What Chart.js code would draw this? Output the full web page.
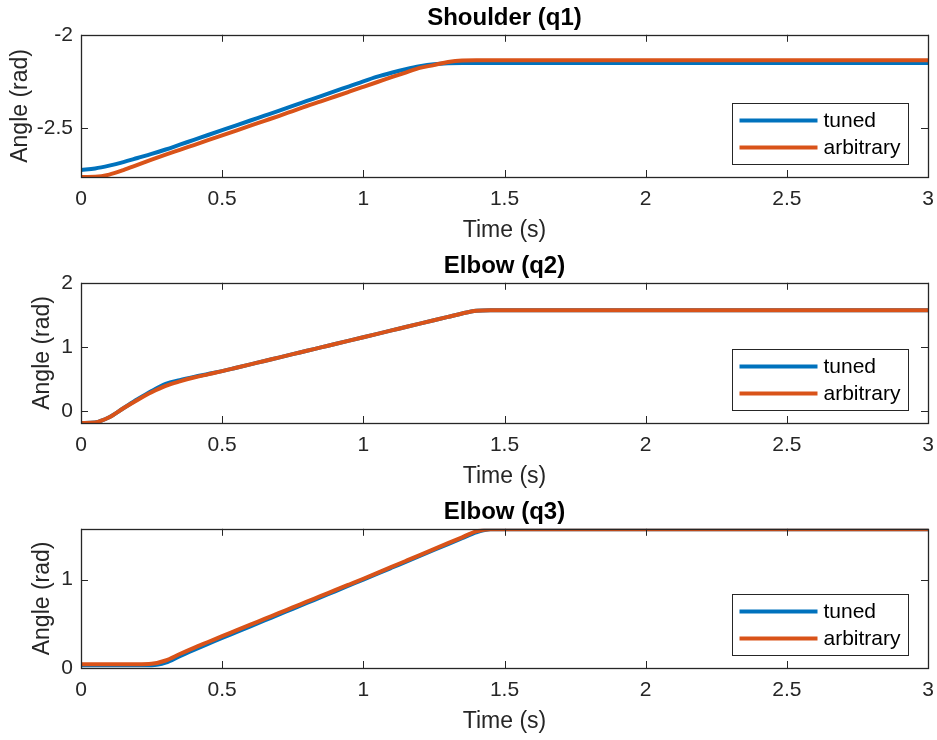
<!DOCTYPE html>
<html>
<head>
<meta charset="utf-8">
<script src="https://cdn.jsdelivr.net/npm/chart.js@4.4.0/dist/chart.umd.min.js"></script>
<style>
  body { margin: 0; background: #fff; }
  #fig { position: relative; width: 937px; height: 740px; }
  #fig canvas { position: absolute; left: 0; }
</style>
</head>
<body>
<div id="fig">
  <canvas id="q1" width="937" height="247" style="top:0px"></canvas>
  <canvas id="q2" width="937" height="245" style="top:248px"></canvas>
  <canvas id="q3" width="937" height="244" style="top:494px"></canvas>
</div>
<script>
// tijd-as (s), gedeeld door alle drie de subplots
const time = [0, 0.05, 0.1, 0.15, 0.2, 0.25, 0.3, 0.35, 0.4, 0.45, 0.5, 0.55, 0.6, 0.65, 0.7, 0.75,
  0.8, 0.85, 0.9, 0.95, 1, 1.05, 1.1, 1.15, 1.2, 1.25, 1.3, 1.35, 1.4, 1.45, 1.5, 2, 2.5, 3];

// Shoulder (q1)
const q1Tuned = [-2.727, -2.719, -2.704, -2.685, -2.663, -2.641, -2.617, -2.591, -2.565, -2.539, -2.513,
  -2.487, -2.461, -2.435, -2.409, -2.382, -2.356, -2.330, -2.303, -2.277, -2.250, -2.225, -2.204, -2.185,
  -2.169, -2.158, -2.153, -2.152, -2.152, -2.152, -2.152, -2.152, -2.152, -2.152];
const q1Arbitrary = [-2.765, -2.764, -2.752, -2.728, -2.700, -2.672, -2.645, -2.619, -2.593, -2.567, -2.541,
  -2.515, -2.489, -2.463, -2.437, -2.410, -2.383, -2.358, -2.332, -2.306, -2.280, -2.254, -2.228, -2.203,
  -2.178, -2.163, -2.146, -2.138, -2.137, -2.137, -2.137, -2.137, -2.137, -2.137];

// Elbow (q2)
const q2Tuned = [-0.19, -0.18, -0.10, 0.04, 0.18, 0.31, 0.42, 0.48, 0.53, 0.575, 0.62, 0.673, 0.726, 0.779,
  0.832, 0.885, 0.938, 0.991, 1.044, 1.097, 1.15, 1.203, 1.256, 1.309, 1.362, 1.415, 1.468, 1.521, 1.562,
  1.571, 1.571, 1.571, 1.571, 1.571];
const q2Arbitrary = [-0.19, -0.18, -0.10, 0.04, 0.17, 0.29, 0.39, 0.46, 0.52, 0.57, 0.62, 0.673, 0.726, 0.779,
  0.832, 0.885, 0.938, 0.991, 1.044, 1.097, 1.15, 1.203, 1.256, 1.309, 1.362, 1.415, 1.468, 1.521, 1.562,
  1.571, 1.571, 1.571, 1.571, 1.571];

// Elbow (q3)
const q3Tuned = [0.03, 0.03, 0.03, 0.03, 0.03, 0.03, 0.06, 0.135, 0.205, 0.272, 0.34, 0.406, 0.472, 0.538,
  0.604, 0.67, 0.736, 0.802, 0.868, 0.934, 1.0, 1.067, 1.134, 1.201, 1.268, 1.335, 1.402, 1.469, 1.536,
  1.571, 1.571, 1.571, 1.571, 1.571];
const q3Arbitrary = [0.042, 0.042, 0.042, 0.042, 0.042, 0.047, 0.085, 0.158, 0.228, 0.294, 0.36, 0.425, 0.49,
  0.555, 0.62, 0.685, 0.75, 0.815, 0.88, 0.945, 1.01, 1.077, 1.144, 1.211, 1.278, 1.345, 1.412, 1.479,
  1.546, 1.571, 1.571, 1.571, 1.571, 1.571];

// tick labels
const xTicks = [0, 0.5, 1, 1.5, 2, 2.5, 3];
const q1Ticks = [-2.5, -2];
const q2Ticks = [0, 1, 2];
const q3Ticks = [0, 1];

const seriesLabels = ['tuned', 'arbitrary'];
const seriesColors = ['#0072BD', '#D95319'];

const AXIS = '#262626';
Chart.defaults.font.family = '"Liberation Sans", Arial, Helvetica, sans-serif';
Chart.defaults.color = AXIS;

// MATLAB-achtige box, ticks naar binnen en legenda rechtsonder
const matlabAxes = {
  id: 'matlabAxes',
  afterDraw(chart) {
    const { ctx, chartArea: a } = chart;
    const xs = chart.scales.x, ys = chart.scales.y;
    const tl = 7;
    ctx.save();
    ctx.strokeStyle = AXIS;
    ctx.lineWidth = 1;
    ctx.beginPath();
    xs.ticks.forEach(t => {
      const px = Math.round(xs.getPixelForValue(t.value)) + 0.5;
      ctx.moveTo(px, a.bottom); ctx.lineTo(px, a.bottom - tl);
      ctx.moveTo(px, a.top); ctx.lineTo(px, a.top + tl);
    });
    ys.ticks.forEach(t => {
      const py = Math.round(ys.getPixelForValue(t.value)) + 0.5;
      ctx.moveTo(a.left, py); ctx.lineTo(a.left + tl, py);
      ctx.moveTo(a.right, py); ctx.lineTo(a.right - tl, py);
    });
    ctx.stroke();
    ctx.lineWidth = 1.3;
    ctx.strokeRect(Math.round(a.left) + 0.5, Math.round(a.top) + 0.5,
      Math.round(a.width), Math.round(a.height));

    // legenda
    const w = 176, h = 61;
    const lx = Math.round(a.right) - 20 - w + 0.5;
    const ly = Math.round(a.bottom) - 13 - h + 0.5;
    ctx.fillStyle = '#fff';
    ctx.fillRect(lx, ly, w, h);
    ctx.lineWidth = 1;
    ctx.strokeRect(lx, ly, w, h);
    ctx.font = '21px "Liberation Sans", Arial, sans-serif';
    ctx.textBaseline = 'middle';
    ctx.textAlign = 'left';
    chart.data.datasets.forEach((ds, i) => {
      const yy = ly + 17 + i * 27;
      ctx.strokeStyle = ds.borderColor;
      ctx.lineWidth = 4;
      ctx.beginPath();
      ctx.moveTo(lx + 7, yy); ctx.lineTo(lx + 85, yy);
      ctx.stroke();
      ctx.fillStyle = '#000';
      ctx.fillText(ds.label, lx + 91, yy + 1);
    });
    ctx.restore();
  }
};

function makePanel(id, title, tuned, arbitrary, yMin, yMax, yTicks, yTitlePad) {
  const series = [tuned, arbitrary];
  const datasets = series.map((vals, i) => ({
    label: seriesLabels[i],
    data: time.map((t, k) => ({ x: t, y: vals[k] })),
    borderColor: seriesColors[i],
    backgroundColor: seriesColors[i],
    borderWidth: 4,
    pointRadius: 0,
    cubicInterpolationMode: 'monotone',
    order: i === 0 ? 1 : 0   // arbitrary boven tuned tekenen
  }));

  return new Chart(document.getElementById(id), {
    type: 'line',
    data: { datasets },
    options: {
      responsive: false,
      animation: false,
      devicePixelRatio: 1,
      layout: { padding: { left: 0, right: 9, top: 0, bottom: 0 } },
      plugins: {
        legend: { display: false },
        tooltip: { enabled: false },
        title: {
          display: true,
          fullSize: false,
          text: title,
          color: '#000',
          font: { size: 24, weight: 'bold' },
          padding: { top: 4, bottom: 2 }
        }
      },
      scales: {
        x: {
          type: 'linear',
          min: 0,
          max: 3,
          grid: { display: false, drawTicks: false },
          border: { display: false },
          afterBuildTicks: s => { s.ticks = xTicks.map(v => ({ value: v })); },
          afterFit: s => { s.height = 70; s.paddingLeft = 0; s.paddingRight = 0; },
          ticks: { font: { size: 21 }, color: AXIS, padding: 10, maxRotation: 0,
            callback: v => String(v) },
          title: {
            display: true,
            text: 'Time (s)',
            color: AXIS,
            font: { size: 23 },
            padding: { top: 0, bottom: 3 }
          }
        },
        y: {
          type: 'linear',
          min: yMin,
          max: yMax,
          grid: { display: false, drawTicks: false },
          border: { display: false },
          afterBuildTicks: s => { s.ticks = yTicks.map(v => ({ value: v })); },
          afterFit: s => { s.width = 81; s.paddingTop = 0; s.paddingBottom = 0; },
          ticks: { font: { size: 21 }, color: AXIS, padding: 8, callback: v => String(v) },
          title: {
            display: true,
            text: 'Angle (rad)',
            color: AXIS,
            font: { size: 23 },
            padding: { top: yTitlePad, bottom: 0 }
          }
        }
      }
    },
    plugins: [matlabAxes]
  });
}

makePanel('q1', 'Shoulder (q1)', q1Tuned, q1Arbitrary, -2.765, -2, q1Ticks, 7);
makePanel('q2', 'Elbow (q2)', q2Tuned, q2Arbitrary, -0.19, 2, q2Ticks, 29);
makePanel('q3', 'Elbow (q3)', q3Tuned, q3Arbitrary, 0, 1.575, q3Ticks, 29);
</script>
</body>
</html>
